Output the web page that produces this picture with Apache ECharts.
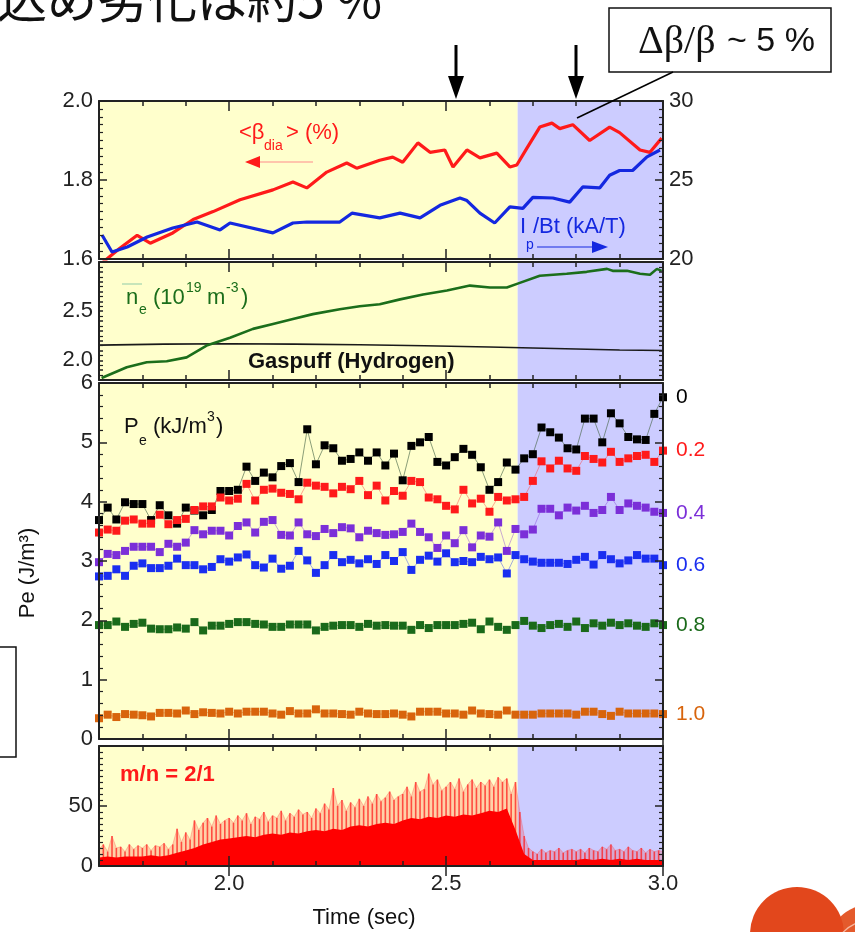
<!DOCTYPE html>
<html>
<head>
<meta charset="utf-8">
<script src="https://cdn.jsdelivr.net/npm/echarts@6/dist/echarts.min.js"></script>
<style>
  html, body { margin: 0; padding: 0; background: #fff; }
  #main { width: 855px; height: 932px; }
</style>
</head>
<body>
<div id="main"></div>
<script>
    var myChart = echarts.init(document.getElementById('main'));

    // 上段: <beta_dia> と Ip/Bt
    var betaTime = [1.707, 1.748, 1.788, 1.818, 1.870, 1.917, 1.963, 2.025, 2.101, 2.147, 2.179, 2.225, 2.271, 2.294, 2.347, 2.377, 2.400, 2.435, 2.463, 2.497, 2.516, 2.548, 2.578, 2.617, 2.647, 2.663, 2.686, 2.716, 2.744, 2.762, 2.792, 2.831, 2.877, 2.900, 2.947, 2.970, 2.997];
    var betaVal = [1.59, 1.627, 1.66, 1.64, 1.666, 1.70, 1.72, 1.75, 1.775, 1.795, 1.78, 1.82, 1.843, 1.83, 1.85, 1.858, 1.845, 1.894, 1.87, 1.876, 1.833, 1.876, 1.856, 1.868, 1.833, 1.838, 1.88, 1.934, 1.944, 1.93, 1.94, 1.90, 1.934, 1.92, 1.876, 1.87, 1.906];
    var ipTime = [1.707, 1.730, 1.765, 1.811, 1.870, 1.926, 1.979, 2.002, 2.101, 2.147, 2.179, 2.255, 2.283, 2.347, 2.394, 2.440, 2.486, 2.532, 2.548, 2.578, 2.612, 2.647, 2.677, 2.700, 2.746, 2.785, 2.815, 2.854, 2.877, 2.900, 2.930, 2.963, 2.993];
    var ipVal = [21.52, 20.44, 20.76, 21.39, 21.96, 22.34, 21.84, 22.28, 21.65, 22.28, 22.34, 22.34, 22.9, 22.6, 22.9, 22.6, 23.4, 23.86, 23.7, 22.9, 22.28, 23.3, 23.2, 23.9, 23.86, 23.6, 24.56, 24.5, 25.3, 25.6, 25.6, 26.46, 26.9];

    // 2段目: ne と Gaspuff
    var neTime = [1.706, 1.764, 1.810, 1.856, 1.902, 1.948, 2.002, 2.055, 2.101, 2.147, 2.193, 2.255, 2.301, 2.347, 2.394, 2.447, 2.502, 2.555, 2.601, 2.640, 2.665, 2.716, 2.778, 2.824, 2.871, 2.884, 2.917, 2.947, 2.970, 2.986, 2.997];
    var neVal = [1.82, 1.93, 1.98, 1.99, 2.03, 2.15, 2.23, 2.32, 2.37, 2.42, 2.47, 2.52, 2.55, 2.57, 2.62, 2.67, 2.71, 2.76, 2.74, 2.74, 2.78, 2.86, 2.88, 2.90, 2.93, 2.91, 2.91, 2.88, 2.87, 2.93, 2.91];
    var gasTime = [1.70, 1.85, 2.00, 2.15, 2.30, 2.45, 2.60, 2.75, 2.90, 3.00];
    var gasVal = [2.155, 2.165, 2.168, 2.165, 2.158, 2.148, 2.135, 2.12, 2.105, 2.10];

    // 3段目: Pe (0.02 s 毎)
    var peTime = [];
    for (var i = 0; i <= 65; i++) peTime.push(+(1.70 + 0.02 * i).toFixed(2));
    var pe00 = [3.69, 3.90, 3.70, 3.99, 3.96, 3.96, 3.69, 3.94, 3.77, 3.63, 3.90, 3.85, 3.77, 3.86, 4.18, 4.18, 4.20, 4.59, 4.35, 4.49, 4.41, 4.60, 4.65, 4.33, 5.22, 4.63, 4.95,
        4.90, 4.69, 4.72, 4.83, 4.69, 4.83, 4.61, 4.81, 4.36, 4.94, 5.00, 5.09, 4.67, 4.61, 4.75, 4.89, 4.79, 4.58, 4.20, 4.33, 4.66, 4.54, 4.73, 4.80, 5.25, 5.17, 5.08, 4.90, 4.88, 5.40, 5.40, 5.00, 5.49, 5.32, 5.09, 5.05, 5.04, 5.48, 5.76];
    var pe02 = [3.48, 3.53, 3.51, 3.68, 3.70, 3.63, 3.63, 3.78, 3.62, 3.69, 3.71, 3.86, 3.92, 3.92, 4.07, 4.02, 4.05, 4.30, 4.02, 4.20, 4.22, 4.15, 4.13, 4.04, 4.32, 4.27, 4.25,
        4.14, 4.25, 4.21, 4.35, 4.11, 4.27, 4.02, 4.18, 4.10, 4.35, 4.33, 4.07, 4.04, 3.93, 3.87, 4.20, 3.97, 4.05, 3.83, 4.08, 4.02, 4.04, 4.08, 4.35, 4.68, 4.56, 4.69, 4.56, 4.52, 4.77, 4.72, 4.66, 4.84, 4.67, 4.73, 4.77, 4.79, 4.67, 4.86];
    var pe04 = [2.98, 3.12, 3.10, 3.17, 3.24, 3.24, 3.24, 3.15, 3.29, 3.24, 3.31, 3.52, 3.45, 3.51, 3.51, 3.43, 3.59, 3.65, 3.48, 3.66, 3.69, 3.44, 3.43, 3.65, 3.45, 3.42, 3.54,
        3.47, 3.57, 3.55, 3.40, 3.51, 3.47, 3.44, 3.45, 3.49, 3.63, 3.49, 3.40, 3.22, 3.43, 3.30, 3.52, 3.23, 3.43, 3.41, 3.65, 3.17, 3.54, 3.45, 3.53, 3.88, 3.88, 3.77, 3.90, 3.85, 3.93, 3.81, 3.86, 4.08, 3.86, 3.97, 3.93, 3.90, 3.83, 3.81];
    var pe06 = [2.74, 2.75, 2.86, 2.75, 2.92, 2.96, 2.88, 2.88, 2.92, 3.04, 2.93, 2.93, 2.86, 2.90, 3.03, 2.99, 3.06, 3.11, 2.93, 2.89, 3.04, 2.87, 2.92, 3.17, 3.01, 2.80, 2.93,
        3.10, 2.98, 3.02, 2.96, 3.03, 2.95, 3.10, 3.00, 3.15, 2.85, 3.02, 3.09, 2.99, 3.13, 2.98, 3.00, 2.98, 3.07, 3.03, 3.06, 2.79, 3.10, 3.03, 2.99, 2.97, 2.97, 2.97, 2.95, 3.02, 3.07, 2.94, 3.10, 3.03, 2.96, 3.01, 3.10, 3.04, 3.04, 2.93];
    var pe08 = [1.92, 1.92, 1.98, 1.89, 1.94, 1.96, 1.86, 1.85, 1.85, 1.88, 1.86, 1.97, 1.83, 1.91, 1.91, 1.94, 1.97, 1.97, 1.94, 1.93, 1.89, 1.89, 1.93, 1.93, 1.93, 1.83, 1.89,
        1.91, 1.92, 1.92, 1.89, 1.94, 1.91, 1.92, 1.91, 1.91, 1.84, 1.92, 1.87, 1.92, 1.92, 1.92, 1.94, 1.96, 1.85, 1.98, 1.89, 1.84, 1.92, 1.99, 1.91, 1.87, 1.92, 1.94, 1.89, 1.98, 1.87, 1.95, 1.91, 1.96, 1.92, 1.95, 1.91, 1.89, 1.95, 1.92];
    var pe10 = [0.35, 0.41, 0.37, 0.42, 0.41, 0.40, 0.38, 0.44, 0.44, 0.43, 0.48, 0.42, 0.45, 0.44, 0.43, 0.46, 0.43, 0.46, 0.46, 0.46, 0.43, 0.41, 0.47, 0.43, 0.43, 0.50, 0.43,
        0.43, 0.42, 0.41, 0.46, 0.43, 0.42, 0.42, 0.43, 0.41, 0.38, 0.46, 0.46, 0.46, 0.43, 0.43, 0.41, 0.48, 0.43, 0.42, 0.41, 0.48, 0.41, 0.41, 0.41, 0.43, 0.43, 0.43, 0.43, 0.41, 0.46, 0.46, 0.42, 0.39, 0.46, 0.43, 0.43, 0.43, 0.43, 0.42];

    // 4段目: m/n = 2/1 揺動 (ベース 0.02 s 毎, ピーク 0.01 s 毎)
    var mhdBase = [7, 8, 7, 8, 8, 8, 9, 8, 9, 11, 13, 15, 18, 20, 22, 23, 24, 25, 24, 26, 27, 26, 28, 27, 29, 30, 29, 31, 30, 33,
        34, 33, 35, 36, 35, 38, 40, 39, 41, 40, 42, 41, 43, 42, 44, 46, 45, 48, 30, 10, 5, 5, 5, 5, 5, 5, 6, 5, 6, 5, 6, 5, 6, 5, 5, 5];
    var mhdPeakTime = [];
    for (var k = 0; k <= 130; k++) mhdPeakTime.push(+(1.70 + 0.01 * k).toFixed(2));
    var mhdPeak = [14, 18, 12, 25, 15, 16, 12, 18, 14, 17,
        15, 18, 13, 17, 16, 19, 14, 18, 31, 20,
        28, 22, 38, 30, 36, 40, 33, 42, 35, 38,
        40, 36, 42, 38, 44, 35, 41, 39, 45, 37,
        42, 40, 46, 38, 44, 41, 47, 43, 45, 40,
        48, 44, 52, 47, 65, 50, 55, 46, 53, 49,
        56, 50, 58, 52, 60, 54, 57, 62, 55, 58,
        60, 66, 58, 70, 62, 64, 77, 68, 72, 63,
        66, 70, 64, 73, 62, 68, 72, 65, 70, 67,
        72, 66, 74, 70, 73, 60, 70, 45, 25, 15,
        12, 10, 14, 11, 13, 12, 15, 11, 13, 14,
        12, 14, 11, 15, 13, 12, 16, 14, 18, 13,
        14, 12, 16, 13, 12, 15, 11, 14, 12, 13, 12];

    var splitT = 2.665;
    var FONT = '"Liberation Sans", Arial, sans-serif';
    var INK = '#222';
    var FS = 22;

    const zip = (xs, ys) => xs.map((x, i) => [x, ys[i]]);

    var grids = [
        {left: 99, top: 101, width: 564, height: 158},
        {left: 99, top: 262, width: 564, height: 118},
        {left: 99, top: 383, width: 564, height: 356},
        {left: 99, top: 746, width: 564, height: 120}
    ];

    var xAxes = [];
    grids.forEach(function (g, gi) {
        ['bottom', 'top'].forEach(function (pos) {
            xAxes.push({
                type: 'value', gridIndex: gi, position: pos, min: 1.7, max: 3.0, interval: 0.1, z: 10,
                axisLine: {show: true, onZero: false, lineStyle: {color: INK, width: 2}},
                axisTick: {show: true, inside: true, length: 5, lineStyle: {color: INK, width: 1.5}},
                axisLabel: {show: false},
                splitLine: {show: false}
            });
            xAxes.push({
                type: 'value', gridIndex: gi, position: pos, min: 1.7, max: 3.0, z: 10,
                axisLine: {show: false},
                axisTick: {show: true, inside: true, length: 10, customValues: [2.0, 2.5, 3.0], lineStyle: {color: INK, width: 1.5}},
                axisLabel: {
                    show: gi === 3 && pos === 'bottom', customValues: [2.0, 2.5, 3.0],
                    formatter: v => v.toFixed(1), color: INK, fontSize: FS, fontFamily: FONT, margin: 7
                },
                splitLine: {show: false}
            });
        });
    });
    // x軸の番号: grid g の下側 = 4g
    const xi = g => 4 * g;

    function yAx(gi, pos, o) {
        return {
            type: 'value', gridIndex: gi, position: pos, min: o.min, max: o.max, interval: o.interval, z: 10,
            axisLine: {show: true, onZero: false, lineStyle: {color: INK, width: 2}},
            axisTick: {show: true, inside: true, length: o.tick || 8, lineStyle: {color: INK, width: 1.5}},
            minorTick: {show: true, splitNumber: o.minor, length: 4, lineStyle: {color: INK, width: 1.2}},
            axisLabel: {
                show: o.label !== false, formatter: o.fmt, color: INK, fontSize: FS, fontFamily: FONT, margin: 6
            },
            splitLine: {show: false}
        };
    }
    var yAxes = [
        yAx(0, 'left', {min: 1.6, max: 2.0, interval: 0.2, minor: 10, fmt: v => v.toFixed(1)}),
        yAx(0, 'right', {min: 20, max: 30, interval: 5, minor: 10, fmt: v => String(v)}),
        yAx(1, 'left', {min: 1.8, max: 3.0, interval: 0.1, minor: 2, tick: 4,
            fmt: v => (Math.abs(v - 2.0) < 1e-6 || Math.abs(v - 2.5) < 1e-6) ? v.toFixed(1) : ''}),
        yAx(1, 'right', {min: 1.8, max: 3.0, interval: 0.1, minor: 2, tick: 4, label: false}),
        yAx(2, 'left', {min: 0, max: 6, interval: 1, minor: 5, fmt: v => String(v)}),
        yAx(2, 'right', {min: 0, max: 6, interval: 1, minor: 5, label: false}),
        yAx(3, 'left', {min: 0, max: 100, interval: 50, minor: 10, fmt: v => v === 100 ? '' : String(v)}),
        yAx(3, 'right', {min: 0, max: 100, interval: 50, minor: 10, label: false})
    ];

    var series = [];
    // 背景 (黄色 / 紫)
    grids.forEach(function (g, gi) {
        series.push({
            type: 'line', xAxisIndex: xi(gi), yAxisIndex: 2 * gi, data: [], z: 0, silent: true,
            markArea: {
                silent: true,
                data: [
                    [{xAxis: 1.7, itemStyle: {color: '#FFFFCC'}}, {xAxis: splitT}],
                    [{xAxis: splitT, itemStyle: {color: '#CCCCFF'}}, {xAxis: 3.0}]
                ]
            }
        });
    });

    function trace(gi, yIdx, xs, ys, color, width) {
        return {
            type: 'line', xAxisIndex: xi(gi), yAxisIndex: yIdx, data: zip(xs, ys),
            showSymbol: false, lineStyle: {color: color, width: width}, z: 3
        };
    }
    series.push(trace(0, 0, betaTime, betaVal, '#FF1A1A', 3.2));
    series.push(trace(0, 1, ipTime, ipVal, '#1428E0', 3.2));
    series.push(trace(1, 2, gasTime, gasVal, '#1a1a1a', 1.6));
    series.push(trace(1, 2, neTime, neVal, '#1B6E1B', 2.6));

    var peSets = [
        {v: pe00, name: '0', c: '#000000', lc: 'rgba(70,100,70,0.7)'},
        {v: pe02, name: '0.2', c: '#FF1A1A', lc: 'rgba(255,60,60,0.5)'},
        {v: pe04, name: '0.4', c: '#7B2FD8', lc: 'rgba(123,47,216,0.45)'},
        {v: pe06, name: '0.6', c: '#1A2EF0', lc: 'rgba(26,46,240,0.45)'},
        {v: pe08, name: '0.8', c: '#1A6A1A', lc: 'rgba(26,106,26,0.45)'},
        {v: pe10, name: '1.0', c: '#D8640C', lc: 'rgba(216,100,12,0.45)'}
    ];
    peSets.forEach(function (s) {
        series.push({
            type: 'line', xAxisIndex: xi(2), yAxisIndex: 4, data: zip(peTime, s.v),
            symbol: 'rect', symbolSize: 8, showSymbol: true, clip: false,
            itemStyle: {color: s.c}, lineStyle: {color: s.lc, width: 0.9}, z: 3,
            endLabel: {show: true, formatter: s.name, color: s.c, fontSize: 21, fontFamily: FONT, distance: 13}
        });
    });

    // 揺動: ピークの包絡 (半透明) + スパイク + 密な部分
    series.push({
        type: 'line', xAxisIndex: xi(3), yAxisIndex: 6, data: zip(mhdPeakTime, mhdPeak),
        showSymbol: false, lineStyle: {color: 'rgba(255,60,60,0.5)', width: 0.6},
        areaStyle: {color: 'rgba(255,40,40,0.3)'}, z: 3
    });
    series.push({
        type: 'bar', xAxisIndex: xi(3), yAxisIndex: 6, data: zip(mhdPeakTime, mhdPeak),
        barWidth: 1.6, itemStyle: {color: 'rgba(255,20,20,0.7)'}, z: 3
    });
    series.push({
        type: 'line', xAxisIndex: xi(3), yAxisIndex: 6, data: zip(peTime, mhdBase),
        showSymbol: false, lineStyle: {width: 0}, areaStyle: {color: '#FF0000', opacity: 1}, z: 4
    });

    function txt(x, y, s, o) {
        o = o || {};
        return {
            type: 'text', x: x, y: y, rotation: o.rot || 0, z: 100,
            style: {
                text: s, fill: o.color || INK, fontSize: o.size || FS, fontFamily: o.font || FONT,
                fontWeight: o.weight || 'normal', align: o.align || 'left', verticalAlign: 'middle'
            }
        };
    }
    function arrowDown(x) {
        return [
            {type: 'rect', shape: {x: x - 1.5, y: 45, width: 3, height: 34}, style: {fill: '#000'}, z: 100},
            {type: 'polygon', shape: {points: [[x - 8, 76], [x + 8, 76], [x, 99]]}, style: {fill: '#000'}, z: 100}
        ];
    }

    var RED = '#FF1A1A', BLUE = '#1428E0', GREEN = '#1B6E1B';
    var graphics = [
        txt(-3, -1, '込め劣化は約5 %', {size: 50, font: '"Noto Sans CJK JP", sans-serif', color: '#111'}),
        {type: 'rect', shape: {x: 609, y: 8, width: 222, height: 64}, style: {fill: '#fff', stroke: '#111', lineWidth: 1.5}, z: 100},
        txt(638, 42, 'Δβ/β', {size: 40, font: '"Liberation Serif", "Times New Roman", serif', color: '#111'}),
        txt(727, 42, '~ 5 %', {size: 34, color: '#111'}),
        {type: 'line', shape: {x1: 673, y1: 72, x2: 577, y2: 118}, style: {stroke: '#000', lineWidth: 1.5}, z: 100},
        {type: 'rect', shape: {x: -10, y: 647, width: 26, height: 110}, style: {fill: 'none', stroke: '#111', lineWidth: 1.5}, z: 100},

        // 上段ラベル
        txt(239, 133, '<β', {color: RED}),
        txt(264, 146, 'dia', {color: RED, size: 14}),
        txt(286, 133, '> (%)', {color: RED}),
        {type: 'line', shape: {x1: 313, y1: 162, x2: 258, y2: 162}, style: {stroke: '#FF8C8C', lineWidth: 1.2}, z: 100},
        {type: 'polygon', shape: {points: [[245, 162], [260, 156], [260, 168]]}, style: {fill: RED}, z: 100},
        txt(520, 227, 'I', {color: BLUE}),
        txt(526, 245, 'p', {color: BLUE, size: 14}),
        txt(533, 227, '/Bt (kA/T)', {color: BLUE}),
        {type: 'line', shape: {x1: 537, y1: 247, x2: 595, y2: 247}, style: {stroke: BLUE, lineWidth: 1}, z: 100},
        {type: 'polygon', shape: {points: [[608, 247], [592, 241], [592, 253]]}, style: {fill: BLUE}, z: 100},

        // 2段目ラベル
        {type: 'line', shape: {x1: 122, y1: 284, x2: 142, y2: 284}, style: {stroke: '#B5DDB5', lineWidth: 1.5}, z: 100},
        txt(126, 298, 'n', {color: GREEN}),
        txt(139, 310, 'e', {color: GREEN, size: 14}),
        txt(153, 298, '(10', {color: GREEN}),
        txt(186, 288, '19', {color: GREEN, size: 14}),
        txt(207, 298, 'm', {color: GREEN}),
        txt(226, 288, '-3', {color: GREEN, size: 14}),
        txt(241, 298, ')', {color: GREEN}),
        txt(248, 362, 'Gaspuff (Hydrogen)', {weight: 'bold', color: '#111'}),

        // 3段目ラベル
        txt(124, 427, 'P', {color: '#111'}),
        txt(139, 441, 'e', {color: '#111', size: 14}),
        txt(153, 427, '(kJ/m', {color: '#111'}),
        txt(207, 417, '3', {color: '#111', size: 14}),
        txt(216, 427, ')', {color: '#111'}),
        txt(28, 573, 'Pe (J/m³)', {rot: Math.PI / 2, align: 'center', color: '#111'}),

        // 4段目ラベル
        txt(120, 775, 'm/n = 2/1', {weight: 'bold', color: RED}),
        txt(364, 918, 'Time (sec)', {align: 'center', color: '#111'}),

        // ロゴ (右下)
        {type: 'circle', shape: {cx: 797, cy: 934, r: 47}, style: {fill: '#E2471C'}, z: 100},
        {type: 'circle', shape: {cx: 872, cy: 950, r: 46}, style: {fill: '#E45A2C'}, z: 99},
        {type: 'arc', shape: {cx: 872, cy: 960, r: 40, startAngle: Math.PI * 1.05, endAngle: Math.PI * 1.45}, style: {stroke: '#F7B8A0', lineWidth: 1.2, fill: 'none'}, z: 101},
        {type: 'arc', shape: {cx: 872, cy: 965, r: 34, startAngle: Math.PI * 1.05, endAngle: Math.PI * 1.45}, style: {stroke: '#F7B8A0', lineWidth: 1.2, fill: 'none'}, z: 101}
    ].concat(arrowDown(456), arrowDown(576));

    option = {
        animation: false,
        backgroundColor: '#fff',
        grid: grids.map(g => Object.assign({show: true, borderColor: INK, borderWidth: 0, backgroundColor: 'transparent'}, g)),
        xAxis: xAxes,
        yAxis: yAxes,
        series: series,
        graphic: graphics
    };

    myChart.setOption(option);
</script>
</body>
</html>
